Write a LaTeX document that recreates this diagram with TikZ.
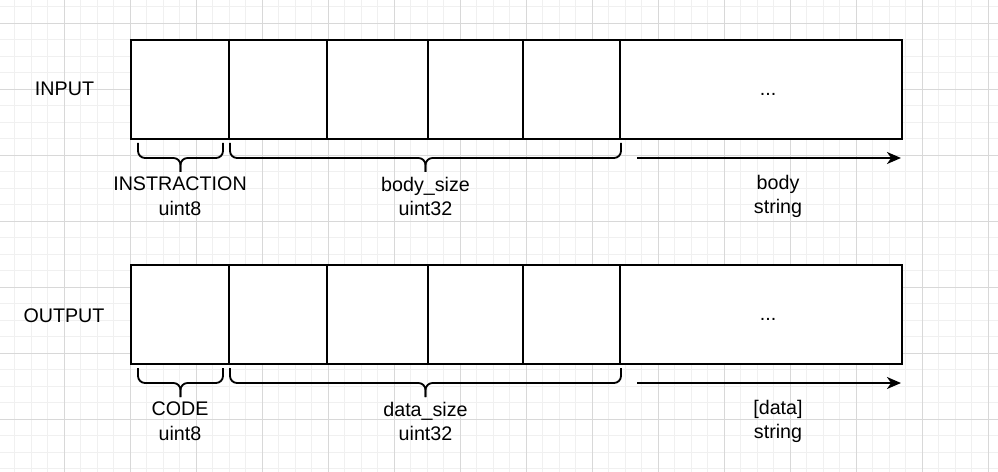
\documentclass[tikz,border=0pt]{standalone}
\usepackage{fontspec}
\setmainfont{Liberation Sans}
\usetikzlibrary{arrows.meta}
\definecolor{GridMinor}{RGB}{240,240,240}
\definecolor{GridMajor}{RGB}{216,216,216}

% curly bracket under a field: x1, x2, top y
\newcommand{\fieldbrace}[3]{%
  \draw[brace] (#1,#3) -- (#1,#3+15) -- ({(#1+#2)/2},#3+15) -- ({(#1+#2)/2},#3+29);
  \draw[brace] (#2,#3) -- (#2,#3+15) -- ({(#1+#2)/2},#3+15) -- ({(#1+#2)/2},#3+29);}

\begin{document}
\begin{tikzpicture}[x=0.025cm, y=-0.025cm, every node/.style={font=\fontsize{14}{17.5}\selectfont}]
  \tikzstyle{cell}=[draw, line width=1.3pt, fill=white, minimum height=2.475cm,
                    inner sep=0pt, outer sep=0pt]
  \tikzstyle{field}=[align=center, inner sep=0pt]
  \tikzstyle{dots}=[anchor=base, inner sep=0pt, xshift=0.175cm, yshift=-0.16cm]
  \tikzstyle{brace}=[line width=1.3pt, rounded corners=5pt]
  \tikzstyle{flow}=[-{Stealth[length=10pt, width=8.5pt, inset=3pt]}, line width=1.3pt]

  \useasboundingbox (0,0) rectangle (998,472);
  % background grid
  \foreach \i in {0,...,61} \draw[GridMinor, line width=0.6pt] ({-2+16.5*\i},0) -- ++(0,472);
  \foreach \i in {0,...,28} \draw[GridMinor, line width=0.6pt] (0,{6.5+16.5*\i}) -- ++(998,0);
  \foreach \i in {0,...,15} \draw[GridMajor, line width=0.6pt] ({-2+66*\i},0) -- ++(0,472);
  \foreach \i in {0,...,6} \draw[GridMajor, line width=0.6pt] (0,{23+66*\i}) -- ++(998,0);

  % frames
  \foreach \a/\b/\n in {131/229/a, 229/327/b, 327/428/c, 428/523/d, 523/620/e, 620/902/f} {
    \node[cell, minimum width={(\b-\a)*0.025cm}] (in\n)  at ({(\a+\b)/2},89.5)  {};
    \node[cell, minimum width={(\b-\a)*0.025cm}] (out\n) at ({(\a+\b)/2},314.5) {};
  }
  \node[dots] (indots)  at (inf.center)  {...};
  \node[dots] (outdots) at (outf.center) {...};

  \node[field] (inlabel)  at (64.5,89)  {INPUT};
  \node[field] (outlabel) at (64,316)   {OUTPUT};

  % input fields
  \fieldbrace{138}{223}{143}
  \fieldbrace{230}{621}{143}
  \coordinate (inbodyS) at (637,158);
  \coordinate (inbodyE) at (901,158);
  \draw[flow] (inbodyS) -- (inbodyE);
  \node[field] (instr)    at (180,196.5)   {INSTRACTION\\uint8};
  \node[field] (bodysize) at (425.5,196.5) {body\_size\\uint32};
  \node[field] (body)     at (778,196.5)   {body\\string};

  % output fields
  \fieldbrace{138}{223}{368}
  \fieldbrace{230}{621}{368}
  \coordinate (outdataS) at (637,383);
  \coordinate (outdataE) at (901,383);
  \draw[flow] (outdataS) -- (outdataE);
  \node[field] (code)     at (180,421.5)   {CODE\\uint8};
  \node[field] (datasize) at (425.5,421.5) {data\_size\\uint32};
  \node[field] (data)     at (778,421.5)   {[data]\\string};
\end{tikzpicture}
\end{document}
